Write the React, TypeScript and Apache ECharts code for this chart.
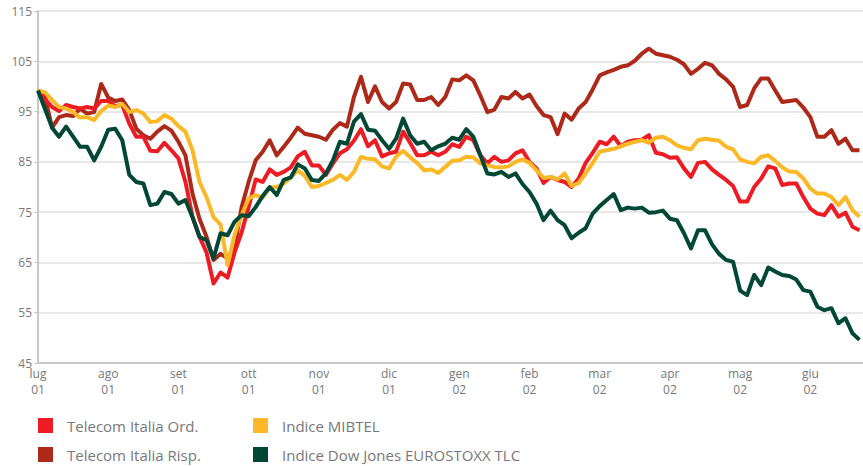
import React, { useEffect, useRef } from "react";
import * as echarts from "echarts";

// Months on the x axis (value axis in month units, lug 01 = 0)
const monthLabels = ["lug", "ago", "set", "ott", "nov", "dic", "gen", "feb", "mar", "apr", "mag", "giu"];
const yearLabels = ["01", "01", "01", "01", "01", "01", "02", "02", "02", "02", "02", "02"];
// Samples every tenth of a month
const stepPerMonth = 10;

const seriesNames = [
  "Telecom Italia Ord.",
  "Indice MIBTEL",
  "Telecom Italia Risp.",
  "Indice Dow Jones EUROSTOXX TLC",
];

const telecomOrd = [
  99.2, 97.5, 95.9, 95.1, 96.3, 95.9, 95.6, 95.9, 95.6, 97.1,
  97.1, 96.1, 96.3, 92.6, 90, 90, 87.2, 87.1, 88.8, 87.3,
  85.7, 81, 74.1, 70.1, 67, 60.8, 63, 62, 67, 71,
  76, 81.5, 81, 83.5, 82.4, 83, 83.9, 86.1, 87, 84.3,
  84.3, 82.4, 84.7, 86.7, 87.5, 89.2, 91.5, 88.1, 89.3, 86.1,
  86.7, 87, 91, 88.8, 86.3, 86.3, 87, 86.3, 87, 88.5,
  88, 90, 89.3, 86.3, 84.7, 86, 85, 85.3, 86.7, 87.3,
  85, 83.7, 80.8, 82, 81.4, 81, 80, 81.7, 84.8, 86.8,
  89, 88.5, 90, 88.1, 89, 89.3, 89.4, 90.3, 86.8, 86.5,
  85.8, 85.9, 83.7, 82, 84.8, 85, 83.5, 82.4, 81.4, 80.2,
  77.1, 77.1, 80, 81.7, 84.1, 83.7, 80.4, 80.7, 80.7, 78,
  75.7, 74.7, 74.4, 76.4, 74.1, 74.9, 72.1, 71.4,
];

const mibtel = [
  99.2, 98.8, 97.3, 95.9, 95.6, 94.9, 93.8, 93.9, 93.3, 95.1,
  96.2, 95.9, 96.5, 94.9, 95.3, 94.6, 92.9, 93.1, 94.3, 93.6,
  92.1, 91, 87.3, 81, 78, 74, 72.5, 64.5, 70.5, 74.4,
  77.7, 78.4, 77.9, 79.9, 80, 80.7, 81.9, 83.3, 82.2, 80,
  80.2, 80.8, 81.4, 82.4, 81.4, 83, 86, 85.6, 85.5, 84.1,
  83.7, 86, 87.2, 85.9, 84.8, 83.3, 83.5, 82.8, 84, 85.2,
  85.3, 86, 85.9, 84.7, 84.3, 84, 83.9, 84.1, 85, 85.5,
  84.8, 83.3, 81.8, 82, 81.5, 82.7, 80.2, 80.8, 82.7, 84.8,
  87, 87.3, 87.6, 88.1, 88.6, 89, 89.3, 88.8, 89.8, 90,
  89.3, 88.3, 87.8, 87.5, 89.3, 89.6, 89.4, 89.2, 88, 87.5,
  85.5, 85, 84.7, 86, 86.3, 85.2, 83.9, 83.1, 83, 81.7,
  79.7, 78.7, 78.7, 78, 76.4, 78, 75.4, 74.1,
];

const telecomRisp = [
  99.2, 97.9, 91.8, 93.9, 94.3, 94.1, 95.6, 94.6, 94.9, 100.5,
  97.8, 97.1, 97.4, 95.3, 91.6, 90.3, 89.6, 91, 92.1, 91.2,
  89, 86.3, 78.7, 73.7, 70.1, 65.5, 66.7, 65.8, 68.1, 76,
  81, 85.3, 87, 89.3, 86.3, 88, 89.8, 91.8, 90.6, 90.3,
  90, 89.4, 91.4, 92.7, 92, 97.9, 101.9, 96.9, 100, 96.9,
  95.6, 96.9, 100.6, 100.4, 97.3, 97.3, 97.9, 96.3, 97.9, 101.4,
  101.2, 102.2, 101.2, 98.2, 94.9, 95.4, 97.9, 97.6, 98.9, 97.6,
  98.4, 96.1, 94.3, 93.9, 90.5, 94.6, 93.4, 95.6, 96.9, 99.4,
  102.2, 102.8, 103.3, 103.9, 104.2, 105.1, 106.5, 107.5, 106.5, 106.2,
  105.9, 105.3, 104.4, 102.5, 103.5, 104.7, 104.2, 102.5, 101.4, 99.9,
  95.9, 96.3, 99.6, 101.6, 101.6, 99.2, 96.9, 97.1, 97.3, 95.8,
  93.9, 90, 90, 91.3, 88.6, 89.6, 87.3, 87.3,
];

const dowJonesTlc = [
  99.2, 95.5, 91.8, 90, 92, 90, 88, 88, 85.3, 88,
  91.4, 91.6, 89.3, 82.4, 81, 80.7, 76.4, 76.7, 79, 78.6,
  76.7, 77.4, 74, 70.1, 69.4, 65.8, 70.8, 70.4, 73.1, 74.4,
  74.2, 76, 78.2, 80, 78.4, 81.4, 81.9, 84.5, 83.7, 81.4,
  81.2, 82.7, 85.3, 89, 88.6, 93, 94.5, 91.4, 91.2, 89.3,
  87.6, 89.6, 93.6, 90.3, 88.6, 89, 87.3, 88.1, 88.6, 89.8,
  89.4, 91.5, 90, 86.3, 82.7, 82.5, 83, 82, 82.7, 80.6,
  79, 76.7, 73.4, 75.3, 73.4, 72.4, 69.8, 70.9, 71.8, 74.7,
  76.2, 77.4, 78.6, 75.4, 75.9, 75.7, 75.9, 74.9, 75, 75.3,
  73.7, 73.4, 70.8, 67.8, 71.4, 71.4, 68.6, 66.7, 65.5, 65.1,
  59.4, 58.5, 62.5, 60.5, 64, 63.2, 62.5, 62.3, 61.6, 59.5,
  59.2, 56.2, 55.5, 55.9, 52.9, 53.9, 50.9, 49.6,
];

const colors = {
  ord: "#ed1c24",
  mibtel: "#fdb827",
  risp: "#ad2a1a",
  dj: "#004835",
};

const textColor = "#77787b";
const font = "'Open Sans', 'Noto Sans', sans-serif";

function toPoints(values: number[]) {
  return values.map((v, i) => [i / stepPerMonth, v]);
}

export default function App() {
  const ref = useRef<HTMLDivElement>(null);

  useEffect(() => {
    if (!ref.current) return;
    const chart = echarts.init(ref.current, undefined, { renderer: "svg" });

    const mkSeries = (name: string, data: number[], color: string, z: number) => ({
      name,
      type: "line",
      data: toPoints(data),
      showSymbol: false,
      symbol: "none",
      z,
      lineStyle: { color, width: 4, join: "round" },
      itemStyle: { color },
      emphasis: { disabled: true },
    });

    const legendBase = {
      icon: "rect",
      itemWidth: 15,
      itemHeight: 15,
      padding: 0,
      selectedMode: false,
      textStyle: {
        color: textColor,
        fontFamily: font,
        fontSize: 15,
        padding: [0, 0, 0, 9],
      },
    };

    chart.setOption({
      animation: false,
      grid: { left: 38, right: 0, top: 11, bottom: 103, containLabel: false },
      xAxis: {
        type: "value",
        min: 0,
        max: 11.75,
        interval: 1,
        axisLine: { show: true, lineStyle: { color: "#c8c8c8", width: 2 } },
        axisTick: { show: false },
        splitLine: { show: false },
        axisLabel: {
          color: textColor,
          fontFamily: font,
          fontSize: 12,
          margin: 2,
          showMaxLabel: false,
          formatter: (v: number) => {
            const i = Math.round(v);
            if (Math.abs(v - i) > 1e-6 || i < 0 || i >= monthLabels.length) return "";
            return "{m|" + monthLabels[i] + "}\n{y|" + yearLabels[i] + "}";
          },
          rich: {
            m: { color: textColor, fontFamily: font, fontSize: 12, lineHeight: 16 },
            y: { color: textColor, fontFamily: font, fontSize: 12, lineHeight: 16 },
          },
        },
      },
      yAxis: {
        type: "value",
        min: 45,
        max: 115,
        interval: 10,
        axisLine: { show: true, lineStyle: { color: "#c8c8c8", width: 2 } },
        axisTick: { show: true, length: 4, lineStyle: { color: "#c8c8c8" } },
        splitLine: { show: true, lineStyle: { color: "#e1e1e1", width: 1.5 } },
        axisLabel: {
          color: textColor,
          fontFamily: font,
          fontSize: 12,
          margin: 6,
        },
      },
      legend: [
        { ...legendBase, data: [seriesNames[0]], left: 38, top: 418 },
        { ...legendBase, data: [seriesNames[1]], left: 253, top: 418 },
        { ...legendBase, data: [seriesNames[2]], left: 38, top: 447 },
        { ...legendBase, data: [seriesNames[3]], left: 253, top: 447 },
      ],
      series: [
        mkSeries(seriesNames[2], telecomRisp, colors.risp, 2),
        mkSeries(seriesNames[0], telecomOrd, colors.ord, 3),
        mkSeries(seriesNames[1], mibtel, colors.mibtel, 4),
        mkSeries(seriesNames[3], dowJonesTlc, colors.dj, 5),
      ],
    });

    return () => chart.dispose();
  }, []);

  return <div ref={ref} style={{ width: 863, height: 466, position: "absolute", left: 0, top: 0 }} />;
}
